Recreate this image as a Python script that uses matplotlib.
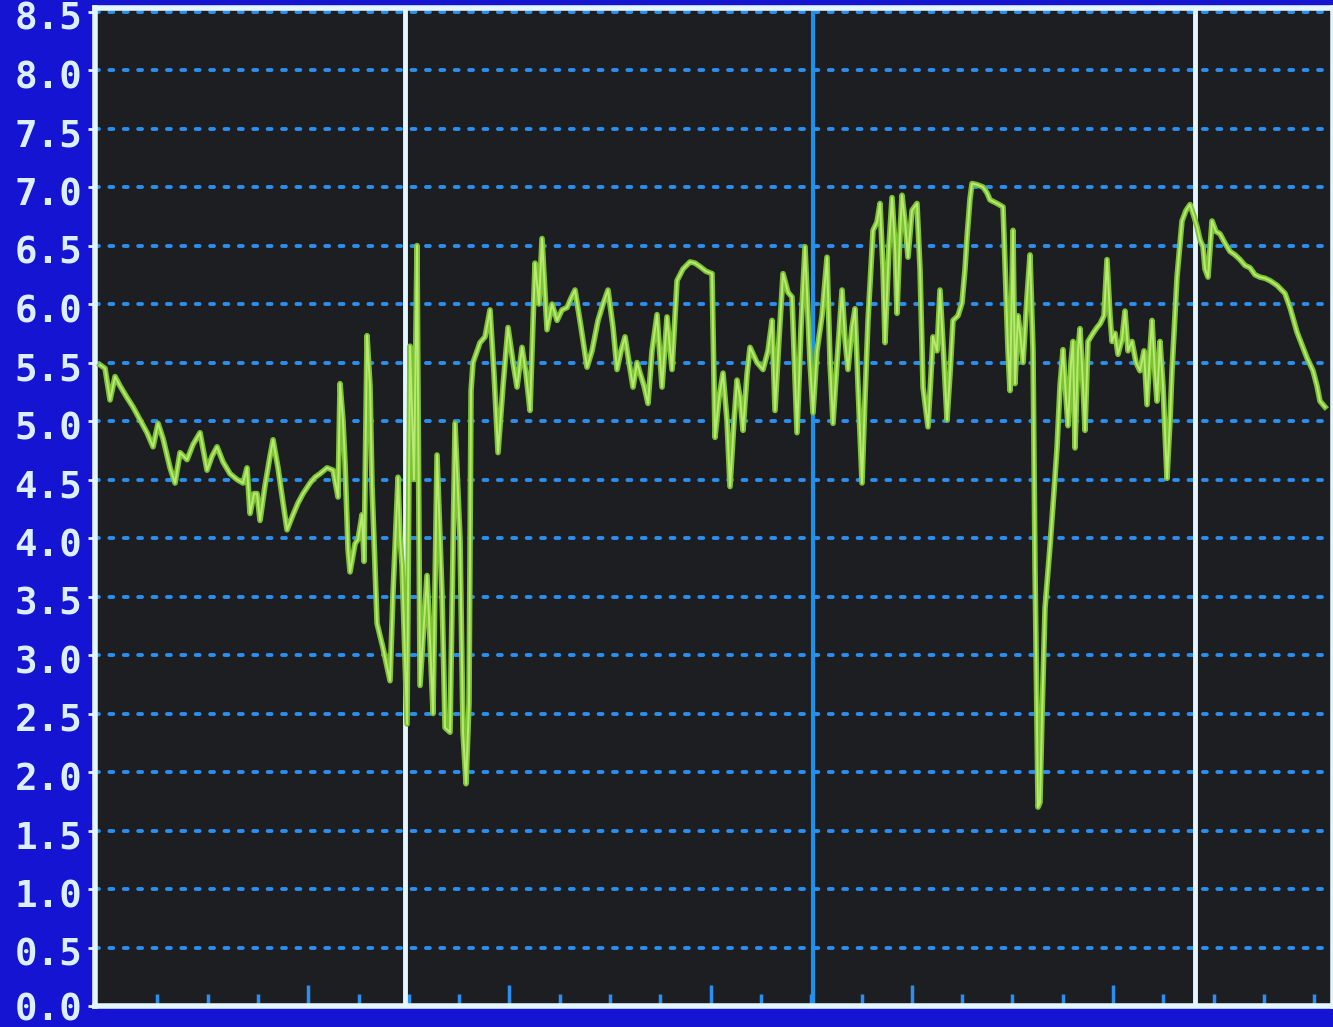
import numpy as np
import matplotlib.pyplot as plt
from matplotlib.transforms import ScaledTranslation

# trace of the green signal, sample position and value
sample = [0, 5, 10, 15, 20, 27, 33, 40, 47, 53, 58, 63, 70, 75, 80, 87, 93, 100, 107, 112,
          117, 123, 130, 137, 143, 147, 150, 154, 157, 160, 165, 170, 173, 178, 183, 187, 193, 198, 203, 210,
          215, 220, 227, 233, 238, 240, 243, 245, 248, 250, 255, 258, 262, 264, 267, 270, 272, 277,
          283, 290, 293, 298, 300, 302, 307, 310, 314, 317, 320, 327, 330, 333, 337, 342, 345, 350,
          355, 360, 363, 366, 369, 371, 373, 380, 385, 390, 394, 398, 403, 408, 413, 417, 422, 426,
          430, 435, 439, 442, 447, 452, 457, 462, 467, 471, 475, 481, 487, 492, 498, 503, 508, 513,
          517, 521, 525, 529, 533, 537, 540, 544, 548, 552, 557, 562, 567, 572, 577, 583, 590, 595,
          600, 606, 612, 615, 619, 623, 627, 630, 634, 637, 640, 643, 647, 650, 657, 663, 668, 672,
          675, 679, 683, 688, 692, 697, 701, 705, 710, 713, 717, 722, 727, 730, 733, 737, 742, 745,
          748, 752, 755, 758, 762, 765, 768, 773, 777, 780, 783, 785, 789, 792, 795, 797, 800, 802,
          805, 808, 812, 817, 820, 823, 828, 831, 833, 837, 840, 844, 847, 850, 853, 858, 862, 865,
          867, 870, 872, 877, 883, 887, 890, 897, 903, 908, 910, 913, 915, 918, 920, 923, 927, 930,
          933, 935, 938, 940, 942, 945, 950, 954, 957, 960, 963, 966, 968, 971, 973, 975, 978, 980,
          983, 985, 988, 993, 997, 1000, 1004, 1007, 1010, 1012, 1015, 1018, 1022, 1025, 1028, 1032,
          1036, 1040, 1044, 1047, 1050, 1052, 1055, 1057, 1060, 1063, 1067, 1070, 1072, 1075, 1077,
          1082, 1086, 1090, 1094, 1097, 1100, 1103, 1105, 1108, 1112, 1116, 1120, 1125, 1130, 1135,
          1140, 1145, 1150, 1155, 1160, 1165, 1170, 1177, 1185, 1190, 1194, 1197, 1202, 1207, 1213,
          1217, 1220, 1225]
value = [5.48, 5.45, 5.18, 5.38, 5.30, 5.20, 5.12, 5.01, 4.90, 4.78, 4.98, 4.85, 4.60, 4.47, 4.73, 4.67, 4.80, 4.90, 4.58, 4.70,
         4.78, 4.65, 4.55, 4.50, 4.47, 4.60, 4.21, 4.38, 4.38, 4.15, 4.45, 4.70, 4.84, 4.60, 4.30, 4.07, 4.20, 4.30, 4.38, 4.47,
         4.52, 4.55, 4.60, 4.58, 4.35, 5.32, 5.00, 4.64, 3.90, 3.71, 3.95, 3.99, 4.20, 3.80, 5.73, 5.30, 4.45, 3.27,
         3.06, 2.78, 3.53, 4.52, 4.00, 3.77, 2.41, 5.64, 4.50, 6.50, 2.74, 3.68, 3.12, 2.50, 4.71, 3.52, 2.38, 2.34,
         4.98, 3.99, 2.34, 1.90, 2.59, 5.26, 5.50, 5.67, 5.72, 5.95, 5.40, 4.73, 5.30, 5.80, 5.50, 5.29, 5.63, 5.40,
         5.09, 6.35, 6.00, 6.56, 5.78, 6.00, 5.86, 5.95, 5.97, 6.05, 6.12, 5.80, 5.46, 5.60, 5.86, 6.00, 6.12, 5.80,
         5.44, 5.60, 5.72, 5.50, 5.29, 5.50, 5.41, 5.30, 5.15, 5.60, 5.91, 5.29, 5.89, 5.44, 6.20, 6.30, 6.36, 6.35,
         6.32, 6.28, 6.26, 4.86, 5.20, 5.41, 5.00, 4.44, 5.00, 5.35, 5.20, 4.92, 5.40, 5.63, 5.50, 5.44, 5.60, 5.86,
         5.09, 5.70, 6.26, 6.10, 6.06, 4.90, 5.80, 6.49, 5.50, 5.07, 5.60, 5.90, 6.40, 5.50, 4.98, 5.50, 6.12, 5.70,
         5.44, 5.80, 5.96, 5.30, 4.47, 5.20, 5.86, 6.63, 6.70, 6.86, 6.30, 5.67, 6.50, 6.91, 6.50, 5.92, 6.60, 6.93,
         6.70, 6.40, 6.80, 6.86, 6.30, 5.29, 4.95, 5.40, 5.72, 5.60, 6.12, 5.50, 5.01, 5.40, 5.86, 5.90, 6.01, 6.30,
         6.57, 6.90, 7.03, 7.02, 7.00, 6.95, 6.89, 6.86, 6.83, 5.60, 5.26, 6.63, 5.32, 5.90, 5.76, 5.50, 6.06, 6.42,
         5.61, 3.75, 1.70, 1.74, 2.47, 3.40, 3.93, 4.40, 4.77, 5.30, 5.61, 5.20, 4.96, 5.50, 5.68, 4.77, 5.60, 5.79,
         5.30, 4.92, 5.68, 5.75, 5.80, 5.83, 5.90, 6.38, 5.90, 5.68, 5.75, 5.57, 5.70, 5.94, 5.60, 5.68,
         5.50, 5.43, 5.60, 5.14, 5.60, 5.86, 5.40, 5.17, 5.68, 5.30, 4.51, 5.00, 5.43, 5.90, 6.23,
         6.71, 6.80, 6.85, 6.75, 6.66, 6.55, 6.49, 6.30, 6.23, 6.71, 6.62, 6.60, 6.52, 6.45, 6.42,
         6.38, 6.33, 6.31, 6.25, 6.23, 6.22, 6.20, 6.16, 6.09, 5.97, 5.85, 5.76, 5.65, 5.54, 5.43,
         5.30, 5.17, 5.12]

markers_white = [305, 1095]
marker_blue = 713
y_ticks = np.arange(0, 8.51, 0.5)
x_minor = 7 + 50.3 * np.arange(1, 25)
x_major = 7 + 50.3 * np.array([4, 8, 12, 16, 20])

bg_blue = '#1414d2'
panel = '#1d1e21'
grid_blue = '#2b8ef0'
frame = '#e4f6ff'

fig = plt.figure(figsize=(13.33, 10.27), dpi=100, facecolor=bg_blue)
ax = fig.add_axes([0.0713, 0.0204, 0.9287, 0.9718])
ax.set_facecolor(panel)

for yv in y_ticks[1:]:
    ax.axhline(yv, color=grid_blue, lw=2.8, dashes=(1.0, 2.7),
               dash_capstyle='round', zorder=1)

ax.axvline(markers_white[0], color=frame, lw=3.5, zorder=2)
ax.axvline(markers_white[1], color=frame, lw=3.5, zorder=2)
ax.axvline(marker_blue, color='#1d92ea', lw=3, zorder=2)

ax.plot(sample, value, color='#7cc232', lw=4.0, zorder=3)
ax.plot(sample, value, color='#b8ea72', lw=1.4, zorder=4)

ax.set_xlim(-5, 1233)
ax.set_ylim(0, 8.53)

ax.set_yticks(y_ticks)
ax.set_yticklabels([f'{v:.1f}' for v in y_ticks], family='DejaVu Sans Mono',
                   fontweight='bold', fontsize=27, color='#dcefff')
ax.tick_params(axis='y', direction='out', length=5, width=2, color=frame, pad=4)
# labels sit a little below their grid lines on the screen (not the bottom one)
shift = ScaledTranslation(0, -3 / 72, fig.dpi_scale_trans)
for lab in ax.get_yticklabels()[1:]:
    lab.set_transform(lab.get_transform() + shift)

ax.set_xticks(x_major)
ax.set_xticks(x_minor, minor=True)
ax.tick_params(axis='x', which='both', direction='in', color=grid_blue,
               labelbottom=False, width=2.5)
ax.tick_params(axis='x', which='major', length=15)
ax.tick_params(axis='x', which='minor', length=9)

for side in ['left', 'bottom', 'top', 'right']:
    ax.spines[side].set_color(frame)
    ax.spines[side].set_linewidth(4)

fig.savefig('out.png', dpi=100, facecolor=bg_blue)
